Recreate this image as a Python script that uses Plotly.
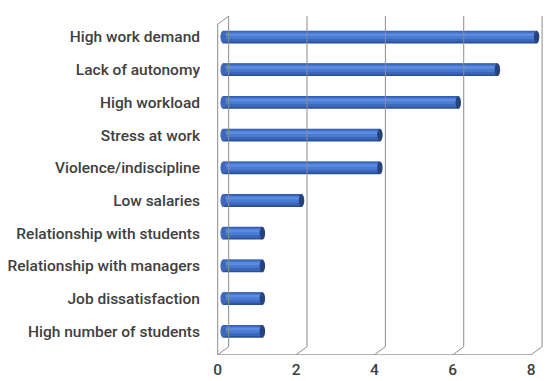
import plotly.graph_objects as go

categories = ["High work demand", "Lack of autonomy", "High workload", "Stress at work",
              "Violence/indiscipline", "Low salaries", "Relationship with students",
              "Relationship with managers", "Job dissatisfaction", "High number of students"]
values = [8, 7, 6, 4, 4, 2, 1, 1, 1, 1]
tick_vals = [0, 2, 4, 6, 8]

W, H = 559, 381
depth_dx = 0.28          # front-to-back shift, in x units
depth_dy = 0.25          # front-to-back shift, in category units
base_off = -0.14         # bars sit mid-depth
cap = 0.07               # half-width of the end ellipse

idx = list(range(len(categories)))
y_top, y_bot = -0.826, 9.725
fig = go.Figure()

grid_col = "#8c8c8c"
gx, gy = [], []
for t in tick_vals:
    gx += [t, t, t - depth_dx, None]
    gy += [-0.64, 9.47, 9.47 + depth_dy, None]
gx += [0, -depth_dx, -depth_dx, None]
gy += [-0.64, -0.64 + depth_dy, 9.47 + depth_dy, None]
gx += [-depth_dx, tick_vals[-1] - depth_dx, None]
gy += [9.47 + depth_dy, 9.47 + depth_dy, None]
fig.add_trace(go.Scatter(x=gx, y=gy, mode="lines", line=dict(color=grid_col, width=1),
                         hoverinfo="skip", showlegend=False))

layers = [(0.39, "#2b4f93", 0.0), (0.33, "#3a66bb", -0.02), (0.2, "#4a7bd2", -0.04), (0.08, "#5b8ce0", -0.07)]
for w, c, dy in layers:
    fig.add_trace(go.Bar(y=[i + dy for i in idx], x=values, base=[base_off] * len(values),
                         orientation="h", width=w, marker=dict(color=c, line=dict(width=0)),
                         hoverinfo="skip", showlegend=False))

shapes = []
for i, v in zip(idx, values):
    for xc, col in [(base_off, "#3d68bd"), (base_off + v, "#24437f")]:
        shapes.append(dict(type="circle", xref="x", yref="y", x0=xc - cap, x1=xc + cap,
                           y0=i - 0.195, y1=i + 0.195, fillcolor=col, line=dict(width=0), layer="above"))

x0 = -0.4
x1 = 8.1
fig.update_layout(
    width=W, height=H, margin=dict(l=205, r=21, t=2, b=34, autoexpand=False),
    paper_bgcolor="white", plot_bgcolor="white", barmode="overlay",
    shapes=shapes,
    font=dict(family="Roboto", size=15.5, color="#404040"),
    xaxis=dict(range=[x0, x1], showgrid=False, zeroline=False, showticklabels=False, fixedrange=True),
    xaxis2=dict(range=[x0 + depth_dx, x1 + depth_dx], overlaying="x", side="bottom",
                tickvals=tick_vals, ticktext=[str(t) for t in tick_vals], showgrid=False,
                zeroline=False, ticks="", ticklabelstandoff=3,
                tickfont=dict(size=15.5, color="#404040", weight=500)),
    yaxis=dict(range=[y_bot, y_top], tickvals=idx, ticktext=categories, showgrid=False,
               zeroline=False, ticks="", ticklabelstandoff=12,
               tickfont=dict(size=15.5, color="#404040", weight=500)),
)
fig.add_trace(go.Scatter(x=[None], y=[None], xaxis="x2", showlegend=False))
fig.write_html("out.html")
